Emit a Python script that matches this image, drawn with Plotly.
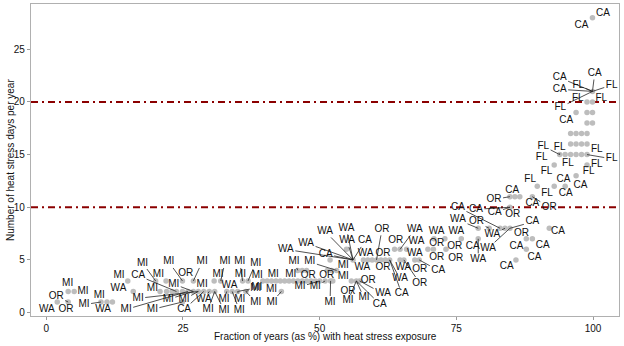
import plotly.graph_objects as go

# ---------------- data ----------------
# heat-stress days per year (integer rows) -> fraction of years (%) of each point
x_at_1 = [2.0, 4.0, 10.0, 11.1, 12.1, 24.9]
x_at_2 = [4.0, 5.1, 15.9, 20.8, 22.0, 23.0, 23.8, 24.9, 25.9, 26.9, 27.8, 28.8, 29.8, 30.8,
          33.0, 34.0, 35.0, 36.5, 43.0]
x_at_3 = [14.9, 20.0, 21.9, 24.9, 26.9, 30.7, 31.9, 35.9, 36.9,
          39.6, 40.4, 41.2, 42.0, 42.8, 43.6, 44.4, 45.2, 46.0, 46.8, 47.6, 48.4, 49.2, 50.0,
          51.0, 52.0, 52.4, 55.8, 56.7, 57.3]
x_at_4 = [46.0, 46.8, 47.6, 51.4, 52.2, 53.1]
x_at_5 = [51.9, 56.1, 58.0, 58.8, 59.6, 60.4, 61.2, 62.0, 62.8, 64.7, 65.4, 67.4, 68.2, 85.9]
x_at_6 = [54.9, 63.7, 64.7, 65.9, 69.8, 70.8, 73.1, 87.8]
x_at_7 = [70.9, 72.9, 75.9, 79.0, 87.8, 88.9]
x_at_8 = [79.0, 81.0, 83.0, 83.9, 84.8, 92.0]
x_at_10 = [84.8]
x_at_11 = [84.8, 85.7, 86.6, 88.9]
x_at_12 = [89.8, 92.9, 94.9]
x_at_13 = [96.9]
x_at_14 = [92.9, 98.9]
x_at_15 = [93.9, 94.9, 95.9, 96.9, 97.9, 98.9]
x_at_16 = [95.9, 96.9, 97.9, 98.9]
x_at_17 = [95.9, 96.9, 97.9, 98.9]
x_at_18 = [98.9, 99.9]
x_at_19 = [96.9, 98.9, 99.9]
x_at_20 = [98.9, 99.9]
x_at_21 = [99.9]
x_at_28 = [99.9]

# labelled points: state, label position, point it refers to, leader line drawn?
lab_text = ["WA", "OR", "OR", "MI", "MI", "MI", "MI", "WA", "MI", "WA", "MI", "CA", "MI", "MI", "OR", "MI",
            "MI", "MI", "MI", "MI", "MI", "MI", "MI", "CA", "WA", "MI", "MI", "MI", "MI", "MI", "MI", "MI",
            "MI", "MI", "MI", "WA", "MI", "MI", "MI", "MI", "MI", "MI", "MI", "MI", "MI",
            "MI", "MI", "OR", "OR", "MI", "MI", "MI", "MI", "MI", "OR", "MI", "MI", "OR", "WA", "CA",
            "WA", "WA", "WA", "WA", "CA", "WA", "CA", "WA", "OR", "OR", "WA", "OR", "WA", "CA", "WA",
            "OR", "OR", "CA", "OR", "WA", "WA", "WA", "WA", "WA", "OR", "OR", "CA", "OR", "OR", "WA",
            "CA", "CA", "CA", "OR", "OR", "CA", "CA", "OR", "WA", "OR", "WA", "WA", "CA", "OR", "CA",
            "CA", "CA", "CA", "CA",
            "FL", "CA", "FL", "CA", "CA", "FL", "FL", "FL", "FL", "FL", "FL", "FL", "FL", "FL", "CA",
            "FL", "FL", "FL", "FL", "FL", "CA", "CA", "CA", "CA", "CA"]
lab_x = [0.1, 3.6, 1.8, 3.9, 6.7, 9.7, 6.9, 10.4, 13.3, 13.2, 17.6, 16.8, 20.5, 22.4, 25.5, 28.5,
         19.4, 23.3, 16.8, 22.3, 25.2, 14.6, 19.4, 25.2, 28.8, 28.5, 29.6, 31.4, 32.7, 35.4, 35.5, 38.3,
         38.6, 41.5, 44.7, 33.5, 38.3, 38.5, 41.2, 32.5, 35.4, 38.3, 41.3, 32.5, 35.3,
         45.3, 48.2, 47.9, 51.3, 46.4, 49.2, 51.9, 54.3, 54.3, 55.2, 55.2, 58.1, 58.9, 61.6, 61.0,
         43.8, 47.5, 51.0, 54.9, 51.1, 55.0, 58.3, 58.4, 61.6, 61.4, 57.8, 61.6, 64.7, 65.0, 65.3,
         68.3, 68.3, 71.7, 63.9, 67.4, 67.7, 67.4, 71.4, 75.0, 71.4, 74.7, 78.0, 71.4, 74.9, 79.0,
         75.3, 78.6, 82.0, 85.3, 81.9, 85.2, 88.9, 92.0, 75.3, 78.7, 81.6, 80.8, 88.9, 86.9, 86.0,
         90.8, 89.3, 84.2, 93.6,
         91.6, 95.0, 88.5, 94.6, 97.7, 99.2, 91.5, 90.6, 95.4, 100.7, 100.7, 103.4, 90.9, 93.9, 95.1,
         94.0, 97.2, 101.5, 97.3, 103.4, 93.9, 93.9, 100.3, 97.9, 101.8]
lab_y = [0.3, 0.25, 1.55, 2.8, 2.0, 1.6, 0.75, 0.3, 3.5, 2.3, 4.7, 3.5, 3.6, 4.8, 3.7, 4.8,
         2.3, 2.7, 1.35, 1.25, 1.25, 0.3, 0.3, 0.3, 1.25, 2.7, 0.3, 3.65, 4.8, 4.8, 3.65, 4.7,
         3.56, 3.65, 3.65, 2.55, 2.3, 2.35, 2.2, 1.2, 1.25, 1.0, 1.0, 0.24, 0.24,
         4.8, 4.8, 3.56, 3.56, 2.45, 2.45, 1.0, 4.5, 3.4, 2.0, 1.1, 1.4, 3.0, 1.8, 0.8,
         6.0, 6.6, 7.7, 8.0, 5.55, 6.8, 6.8, 5.6, 5.6, 7.9, 4.3, 4.3, 3.2, 1.8, 4.3,
         4.1, 2.8, 4.0, 6.8, 7.9, 6.7, 5.6, 7.7, 7.7, 6.6, 6.3, 6.3, 5.2, 5.1, 5.05,
         10.0, 9.8, 9.5, 9.3, 10.75, 11.6, 10.4, 10.0, 8.8, 8.6, 7.4, 6.1, 8.6, 7.5, 6.3,
         6.4, 5.2, 4.4, 7.7,
         11.3, 11.3, 12.6, 12.6, 12.1, 13.4, 13.4, 14.7, 14.2, 14.1, 15.5, 14.6, 15.8, 15.7, 18.2,
         19.5, 20.3, 20.3, 21.6, 21.6, 22.3, 21.2, 22.7, 27.3, 28.4]
pt_x = [2.0, 4.0, 4.0, 4.0, 5.1, 10.0, 10.0, 11.1, 14.9, 15.9, 20.0, 23.8, 21.9, 24.9, 24.9, 26.9,
        20.8, 26.9, 27.8, 26.9, 27.8, 25.9, 24.9, 28.8, 29.8, 27.8, 30.8, 30.7, 31.9, 35.9, 35.9, 36.9,
        39.6, 41.2, 44.4, 34.0, 36.5, 35.0, 43.0, 33.0, 35.0, 36.5, 43.0, 30.8, 34.0,
        46.0, 53.1, 46.8, 51.4, 50.0, 51.0, 52.0, 52.2, 55.8, 55.8, 56.7, 56.7, 57.3, 57.3, 56.7,
        56.1, 56.1, 56.1, 56.1, 56.1, 56.1, 56.1, 58.0, 61.2, 60.4, 58.8, 62.0, 62.8, 62.8, 64.7,
        67.4, 65.4, 68.2, 63.7, 64.7, 65.9, 65.4, 70.9, 75.9, 72.9, 73.1, 79.0, 70.8, 73.1, 79.0,
        83.0, 84.8, 84.8, 84.8, 84.8, 85.7, 88.9, 88.9, 79.0, 81.0, 83.9, 84.8, 84.8, 87.8, 87.8,
        88.9, 87.8, 85.9, 92.0,
        89.8, 94.9, 89.8, 92.9, 96.9, 98.9, 92.9, 92.9, 94.9, 98.9, 98.9, 98.9, 93.9, 93.9, 96.9,
        99.9, 98.9, 99.9, 99.9, 99.9, 99.9, 99.9, 99.9, 99.9, 99.9]
pt_y = [1, 1, 1, 2, 2, 1, 1, 1, 3, 2, 3, 2, 3, 3, 3, 3,
        2, 2, 2, 2, 2, 2, 1, 2, 2, 2, 2, 3, 3, 3, 3, 3,
        3, 3, 3, 2, 2, 2, 2, 2, 2, 2, 2, 2, 2,
        4, 4, 4, 4, 3, 3, 3, 4, 3, 3, 3, 3, 3, 3, 3,
        5, 5, 5, 5, 5, 5, 5, 5, 5, 5, 5, 5, 5, 5, 5,
        5, 5, 5, 6, 6, 6, 5, 7, 7, 7, 6, 7, 6, 6, 7,
        8, 10, 10, 10, 11, 11, 11, 11, 8, 8, 8, 8, 8, 7, 6,
        7, 6, 5, 8,
        12, 12, 12, 12, 13, 14, 14, 14, 15, 14, 15, 15, 15, 15, 19,
        21, 20, 20, 21, 21, 21, 21, 21, 28, 28]
lab_seg = [0, 0, 1, 0, 0, 0, 1, 0, 0, 0, 1, 1, 0, 1, 0, 1,
           0, 1, 1, 1, 1, 1, 1, 1, 1, 0, 1, 0, 1, 1, 0, 1,
           0, 0, 0, 0, 1, 1, 0, 1, 1, 1, 1, 1, 1,
           1, 1, 1, 1, 1, 1, 1, 0, 0, 0, 1, 1, 0, 1, 1,
           1, 1, 1, 1, 1, 1, 1, 0, 0, 1, 0, 0, 1, 1, 0,
           0, 1, 1, 0, 1, 0, 0, 0, 0, 1, 0, 0, 0, 0, 1,
           1, 1, 1, 0, 1, 0, 0, 1, 1, 1, 1, 1, 1, 0, 0,
           0, 0, 0, 0,
           0, 0, 0, 0, 0, 0, 0, 0, 0, 0, 0, 1, 1, 1, 0,
           1, 0, 0, 1, 1, 1, 1, 1, 0, 0]

threshold_days = [10, 20]
x_ticks = [0, 25, 50, 75, 100]
y_ticks = [0, 5, 10, 15, 20, 25]
x_title = "Fraction of years (as %) with heat stress exposure"
y_title = "Number of heat stress days per year"

# ---------------- build ----------------
rows = {1: x_at_1, 2: x_at_2, 3: x_at_3, 4: x_at_4, 5: x_at_5, 6: x_at_6, 7: x_at_7, 8: x_at_8,
        10: x_at_10, 11: x_at_11, 12: x_at_12, 13: x_at_13, 14: x_at_14, 15: x_at_15, 16: x_at_16,
        17: x_at_17, 18: x_at_18, 19: x_at_19, 20: x_at_20, 21: x_at_21, 28: x_at_28}
dots = set()
for yv, xs in rows.items():
    for xv in xs:
        dots.add((xv, yv))
for xv, yv in zip(pt_x, pt_y):
    dots.add((xv, yv))
dots = sorted(dots)
dot_x = [d[0] for d in dots]
dot_y = [d[1] for d in dots]

W, H = 624, 346
ML, MR, MT, MB = 31, 5, 4, 30
XR = [-2.8, 104.75]
YR = [-0.33, 29.3]
PW, PH = W - ML - MR, H - MT - MB


def to_px(x, y):
    return (ML + (x - XR[0]) / (XR[1] - XR[0]) * PW,
            MT + (YR[1] - y) / (YR[1] - YR[0]) * PH)


def to_data(px, py):
    return (XR[0] + (px - ML) / PW * (XR[1] - XR[0]),
            YR[1] - (py - MT) / PH * (YR[1] - YR[0]))


cw = {"M": 8.3, "I": 2.8, "W": 9.4, "A": 6.7, "O": 7.8, "R": 7.2, "C": 7.2, "F": 6.1, "L": 5.6}
seg_x, seg_y = [], []
for t, lx, ly, tx, ty, s in zip(lab_text, lab_x, lab_y, pt_x, pt_y, lab_seg):
    if not s:
        continue
    lpx, lpy = to_px(lx, ly)
    tpx, tpy = to_px(tx, ty)
    dx, dy = lpx - tpx, lpy - tpy
    hw = sum(cw.get(c, 7) for c in t) / 2 + 1.5
    hh = 6.0
    f = min(hw / abs(dx) if dx else 1e9, hh / abs(dy) if dy else 1e9)
    if f >= 1:
        continue
    ex, ey = to_data(lpx - f * dx, lpy - f * dy)
    seg_x += [tx, ex, None]
    seg_y += [ty, ey, None]

FONT = "Liberation Sans, Arial"
fig = go.Figure()
fig.add_trace(go.Scatter(x=dot_x, y=dot_y, mode="markers",
                         marker=dict(size=5.5, color="#bdbdbd", line=dict(width=0)),
                         hoverinfo="skip", showlegend=False))
fig.add_trace(go.Scatter(x=seg_x, y=seg_y, mode="lines",
                         line=dict(color="#262626", width=0.8),
                         hoverinfo="skip", showlegend=False))
fig.add_trace(go.Scatter(x=lab_x, y=lab_y, mode="text", text=lab_text,
                         textposition="middle center",
                         textfont=dict(family=FONT, size=10, color="#111111"),
                         hoverinfo="skip", showlegend=False))

for v in threshold_days:
    fig.add_shape(type="line", xref="paper", x0=0, x1=1, yref="y", y0=v, y1=v,
                  line=dict(color="#8b0000", width=2, dash="7px,4px,2px,4px"), layer="below")

axis_common = dict(showgrid=False, zeroline=False, showline=True, mirror=True,
                   linecolor="#b0b0b0", linewidth=1.3, ticks="outside", ticklen=3,
                   tickcolor="#9a9a9a", tickwidth=1, automargin=False,
                   tickfont=dict(family=FONT, size=10, color="#111111"))
fig.update_layout(
    width=W, height=H,
    margin=dict(l=ML, r=MR, t=MT, b=MB, autoexpand=False),
    paper_bgcolor="white", plot_bgcolor="white",
    xaxis=dict(range=XR, tickvals=x_ticks, **axis_common),
    yaxis=dict(range=YR, tickvals=y_ticks, **axis_common),
    annotations=[
        dict(text=x_title, xref="paper", yref="paper", x=0.5, y=-20.5 / PH,
             xanchor="center", yanchor="middle", showarrow=False,
             font=dict(family=FONT, size=10, color="#111111")),
        dict(text=y_title, xref="paper", yref="paper", x=(10 - ML) / PW, y=0.5,
             xanchor="center", yanchor="middle", showarrow=False, textangle=-90,
             font=dict(family=FONT, size=10, color="#111111")),
    ],
)

fig.write_html("out.html", config={"displayModeBar": False},
               post_script="document.body.style.margin='0';document.body.style.padding='0';")
